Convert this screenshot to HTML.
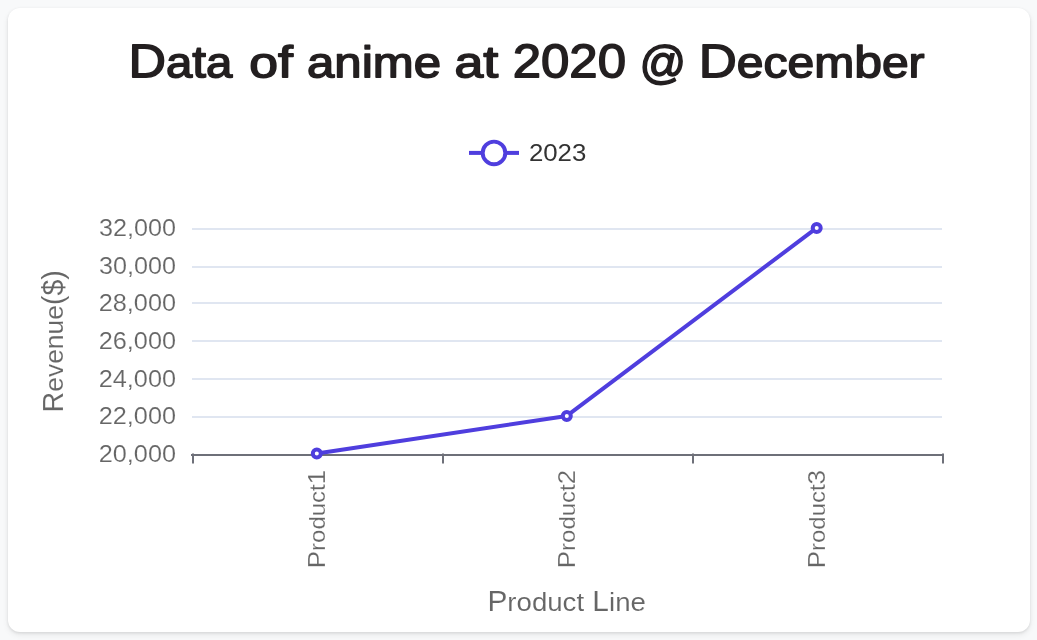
<!DOCTYPE html>
<html lang="en">
<head>
<meta charset="utf-8">
<title>Data of anime at 2020 @ December</title>
<style>
html,body{margin:0;padding:0;}
body{width:1037px;height:640px;overflow:hidden;background:#f8f9fa;font-family:"Liberation Sans",sans-serif;position:relative;}
.card{position:absolute;left:8px;top:8px;width:1021.5px;height:624px;background:#fff;border-radius:12px;box-shadow:0 1px 3px rgba(0,0,0,0.10),0 3px 6px rgba(0,0,0,0.07);}
svg{position:absolute;left:0;top:0;will-change:transform;}
svg text{font-family:"Liberation Sans",sans-serif;}
</style>
</head>
<body>
<div class="card"></div>
<svg width="1037" height="640" viewBox="0 0 1037 640">
<g>
<rect x="192" y="228" width="750" height="2" fill="#E0E6F1"/>
<rect x="192" y="266" width="750" height="2" fill="#E0E6F1"/>
<rect x="192" y="302" width="750" height="2" fill="#E0E6F1"/>
<rect x="192" y="340" width="750" height="2" fill="#E0E6F1"/>
<rect x="192" y="378" width="750" height="2" fill="#E0E6F1"/>
<rect x="192" y="416" width="750" height="2" fill="#E0E6F1"/>
<rect x="191" y="454" width="752" height="2" fill="#6E7079"/>
<rect x="192" y="453.5" width="2" height="10" fill="#6E7079"/>
<rect x="442" y="453.5" width="2" height="10" fill="#6E7079"/>
<rect x="692" y="453.5" width="2" height="10" fill="#6E7079"/>
<rect x="942" y="453.5" width="2" height="10" fill="#6E7079"/>
<polyline points="316.8,453.5 566.8,415.9 816.7,227.9" fill="none" stroke="#4F3EDE" stroke-width="4" stroke-linejoin="bevel"/>
<circle cx="316.8" cy="453.5" r="4" fill="#fff" stroke="#4F3EDE" stroke-width="4"/>
<circle cx="566.8" cy="415.9" r="4" fill="#fff" stroke="#4F3EDE" stroke-width="4"/>
<circle cx="816.7" cy="227.9" r="4" fill="#fff" stroke="#4F3EDE" stroke-width="4"/>
<rect x="469" y="150.9" width="50" height="4" fill="#4F3EDE"/>
<circle cx="494" cy="152.9" r="11.3" fill="#fff" stroke="#4F3EDE" stroke-width="3.9"/>
</g>
<g>
<text transform="translate(128.56 77.15) rotate(0.05) scale(1.1000 1.0)" font-size="47.2" font-weight="400" fill="#231f20" stroke="#231f20" stroke-width="1.5" stroke-linejoin="round">D<tspan font-size="43.0">a</tspan><tspan font-size="44.9">t</tspan><tspan font-size="43.0">a</tspan></text>
<text transform="translate(249.25 77.15) rotate(0.05) scale(1.2000 1.0)" font-size="47.2" font-weight="400" fill="#231f20" stroke="#231f20" stroke-width="1.5" stroke-linejoin="round"><tspan font-size="43.0">o</tspan><tspan font-size="44.7">f</tspan></text>
<text transform="translate(307.01 77.15) rotate(0.05) scale(1.1422 1.0)" font-size="47.2" font-weight="400" fill="#231f20" stroke="#231f20" stroke-width="1.5" stroke-linejoin="round"><tspan font-size="43.0">an</tspan><tspan font-size="44.1">i</tspan><tspan font-size="43.0">me</tspan></text>
<text transform="translate(454.55 77.15) rotate(0.05) scale(1.2028 1.0)" font-size="47.2" font-weight="400" fill="#231f20" stroke="#231f20" stroke-width="1.5" stroke-linejoin="round"><tspan font-size="43.0">a</tspan><tspan font-size="44.9">t</tspan></text>
<text transform="translate(512.75 77.15) rotate(0.05) scale(1.0787 1.0)" font-size="47.2" font-weight="400" fill="#231f20" stroke="#231f20" stroke-width="1.5" stroke-linejoin="round">2020</text>
<text transform="translate(639.58 78.20) rotate(0.05) scale(0.9730 0.983)" font-size="47.2" font-weight="400" fill="#231f20" stroke="#231f20" stroke-width="1.5" stroke-linejoin="round">@</text>
<text transform="translate(698.71 77.15) rotate(0.05) scale(1.1167 1.0)" font-size="47.2" font-weight="400" fill="#231f20" stroke="#231f20" stroke-width="1.5" stroke-linejoin="round">D<tspan font-size="43.0">ecem</tspan><tspan font-size="44.7">b</tspan><tspan font-size="43.0">er</tspan></text>
<text transform="translate(528.88 160.90) scale(1.0583 1.0)" font-size="24.4" font-weight="400" fill="#333333">2023</text>
<text transform="translate(98.69 461.86) scale(1.0453 1.0)" font-size="24.2" font-weight="400" fill="#666666" stroke="#fff" stroke-width="0.15" stroke-linejoin="round">20,000</text>
<text transform="translate(98.69 424.26) scale(1.0453 1.0)" font-size="24.2" font-weight="400" fill="#666666" stroke="#fff" stroke-width="0.15" stroke-linejoin="round">22,000</text>
<text transform="translate(98.69 386.66) scale(1.0453 1.0)" font-size="24.2" font-weight="400" fill="#666666" stroke="#fff" stroke-width="0.15" stroke-linejoin="round">24,000</text>
<text transform="translate(98.69 349.06) scale(1.0453 1.0)" font-size="24.2" font-weight="400" fill="#666666" stroke="#fff" stroke-width="0.15" stroke-linejoin="round">26,000</text>
<text transform="translate(98.69 311.46) scale(1.0453 1.0)" font-size="24.2" font-weight="400" fill="#666666" stroke="#fff" stroke-width="0.15" stroke-linejoin="round">28,000</text>
<text transform="translate(98.96 273.86) scale(1.0417 1.0)" font-size="24.2" font-weight="400" fill="#666666" stroke="#fff" stroke-width="0.15" stroke-linejoin="round">30,000</text>
<text transform="translate(98.96 236.26) scale(1.0417 1.0)" font-size="24.2" font-weight="400" fill="#666666" stroke="#fff" stroke-width="0.15" stroke-linejoin="round">32,000</text>
<text transform="translate(325.10 568.16) rotate(-90) scale(1.0792 1)" font-size="24.0" font-weight="400" fill="#666666" stroke="#fff" stroke-width="0.15" stroke-linejoin="round">P<tspan font-size="22.2">roduct</tspan>1</text>
<text transform="translate(575.10 568.16) rotate(-90) scale(1.0792 1)" font-size="24.0" font-weight="400" fill="#666666" stroke="#fff" stroke-width="0.15" stroke-linejoin="round">P<tspan font-size="22.2">roduct</tspan>2</text>
<text transform="translate(825.10 568.16) rotate(-90) scale(1.0777 1)" font-size="24.0" font-weight="400" fill="#666666" stroke="#fff" stroke-width="0.15" stroke-linejoin="round">P<tspan font-size="22.2">roduct</tspan>3</text>
<text transform="translate(63.10 412.38) rotate(-90) scale(1.0007 1)" font-size="28.6" font-weight="400" fill="#666666" stroke="#fff" stroke-width="0.1" stroke-linejoin="round">R<tspan font-size="26.4">evenue</tspan>($)</text>
<text transform="translate(487.42 610.90) scale(1.0455 1.0)" font-size="28.6" font-weight="400" fill="#666666" stroke="#fff" stroke-width="0.1" stroke-linejoin="round">P<tspan font-size="26.4">roduct</tspan> L<tspan font-size="26.4">ine</tspan></text>
</g>
</svg>
</body>
</html>
